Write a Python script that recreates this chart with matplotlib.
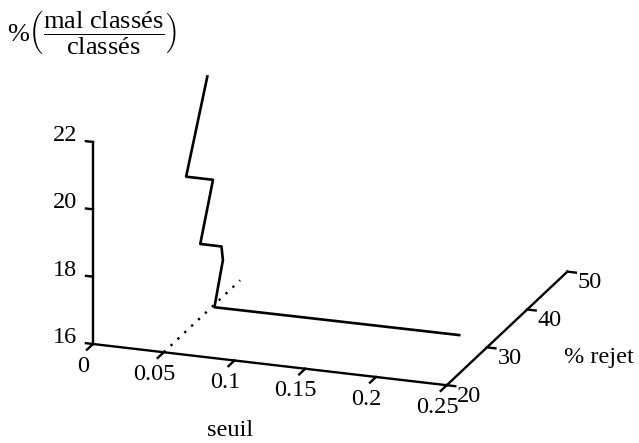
import numpy as np
import matplotlib
matplotlib.use('Agg')
import matplotlib.pyplot as plt
from mpl_toolkits.mplot3d import proj3d

plt.rcParams['font.family'] = 'Liberation Serif'
plt.rcParams['mathtext.fontset'] = 'custom'
plt.rcParams['mathtext.rm'] = 'Liberation Serif'
plt.rcParams['mathtext.it'] = 'Liberation Serif:italic'
plt.rcParams['mathtext.bf'] = 'Liberation Serif:bold'

# courbe
seuil = [0.045, 0.030, 0.049, 0.040, 0.055, 0.056, 0.050, 0.223]
rejet = [32.6, 32.6, 32.6, 32.6, 32.6, 32.6, 32.6, 32.6]
erreur = [22.75, 19.7, 19.7, 17.75, 17.75, 17.35, 15.92, 15.94]

# ligne pointillee
seuil_pt = [0.05, 0.05]
rejet_pt = [20, 39]
erreur_pt = [16, 16]

x_ticks = [0, 0.05, 0.1, 0.15, 0.2, 0.25]
x_labels = ['0', '0.05', '0.1', '0.15', '0.2', '0.25']
y_ticks = [20, 30, 40, 50]
y_labels = ['20', '30', '40', '50']
z_ticks = [16, 18, 20, 22]
z_labels = ['16', '18', '20', '22']

FS = 17.5
W, H = 639, 443
L = 400  # cote de l'axe carre, en pixels
ASPECT = (373.1, 361.7, 213.0)

fig = plt.figure(figsize=(W / 100, H / 100), dpi=100)
ax = fig.add_axes([(329 - L / 2) / W, (235 - L / 2) / H, L / W, L / H],
                  projection='3d')
ax.set_proj_type('ortho')
ax.view_init(elev=19.34, azim=-70.62)
ax.set_box_aspect(ASPECT)
ax.set_xlim(0, 0.25)
ax.set_ylim(20, 50)
ax.set_zlim(16, 22)
# les axes de mplot3d sont remplaces par des traits dessines a la main
ax.set_xticks([])
ax.set_yticks([])
ax.set_zticks([])
ax.set_axis_off()

kw = dict(color='black', lw=1.7, clip_on=False)

ax.plot([0, 0.25], [20, 20], [16, 16], **kw)
ax.plot([0.25, 0.25], [20, 50], [16, 16], **kw)
ax.plot([0, 0], [20, 20], [16, 22], **kw)
for t in x_ticks:
    ax.plot([t, t], [20, 18.5], [16, 16], **kw)
for t in y_ticks:
    ax.plot([0.25, 0.256], [t, t], [16, 16], **kw)
for t in z_ticks:
    ax.plot([0, -0.005], [20, 20], [t, t], **kw)

# donnees
ax.plot(seuil, rejet, erreur, color='black', lw=1.9, clip_on=False)
ax.plot(seuil_pt, rejet_pt, erreur_pt, color='black', lw=1.7,
        linestyle=(0, (1, 3)), clip_on=False)


def to_px(x, y, z):
    fig.canvas.draw()
    xs, ys, _ = proj3d.proj_transform(x, y, z, ax.get_proj())
    return np.array(ax.transData.transform((xs, ys)))


# caler la projection sur la position voulue (pixels, origine en bas)
tgt_o = np.array([93, H - 344])
tgt_f = np.array([570, H - 273])
tgt_t = np.array([93, H - 143])
zoom = 1.0
for _ in range(3):
    o = to_px(0, 20, 16)
    f = to_px(0.25, 50, 16)
    t = to_px(0, 20, 22)
    s = 0.5 * (np.linalg.norm(tgt_f - tgt_o) / np.linalg.norm(f - o)
               + np.linalg.norm(tgt_t - tgt_o) / np.linalg.norm(t - o))
    bb = ax.get_position().transformed(fig.transFigure)
    c = np.array([bb.x0 + bb.width / 2, bb.y0 + bb.height / 2])
    c_new = tgt_o - s * (o - c)
    zoom *= s
    ax.set_position([(c_new[0] - L / 2) / W, (c_new[1] - L / 2) / H,
                     L / W, L / H])
    ax.set_box_aspect(ASPECT, zoom=zoom)

# etiquettes des graduations, placees par la projection de l'axe
for t, lab in zip(x_ticks, x_labels):
    p = to_px(t, 17.6, 15.61)
    fig.text(p[0] / W, p[1] / H, lab, ha='center', va='center', fontsize=FS)
for t, lab in zip(y_ticks, y_labels):
    p = to_px(0.266, t, 15.75)
    fig.text(p[0] / W, p[1] / H, lab, ha='center', va='center', fontsize=FS)
for t, lab in zip(z_ticks, z_labels):
    p = to_px(-0.02, 20, t + 0.1)
    fig.text(p[0] / W, p[1] / H, lab, ha='center', va='center', fontsize=FS)

fig.text(230 / W, 1.5 / H, 'seuil', ha='center', va='bottom', fontsize=FS)
fig.text(599 / W, 1 - 358 / H, '% rejet', ha='center', va='center', fontsize=FS)
fig.text(7 / W, 1 - 33 / H,
         r'$\%\left(\dfrac{\mathrm{mal\ classés}}{\mathrm{classés}}\right)$',
         ha='left', va='center', fontsize=19)

fig.savefig('out.png', dpi=100, facecolor='white')
